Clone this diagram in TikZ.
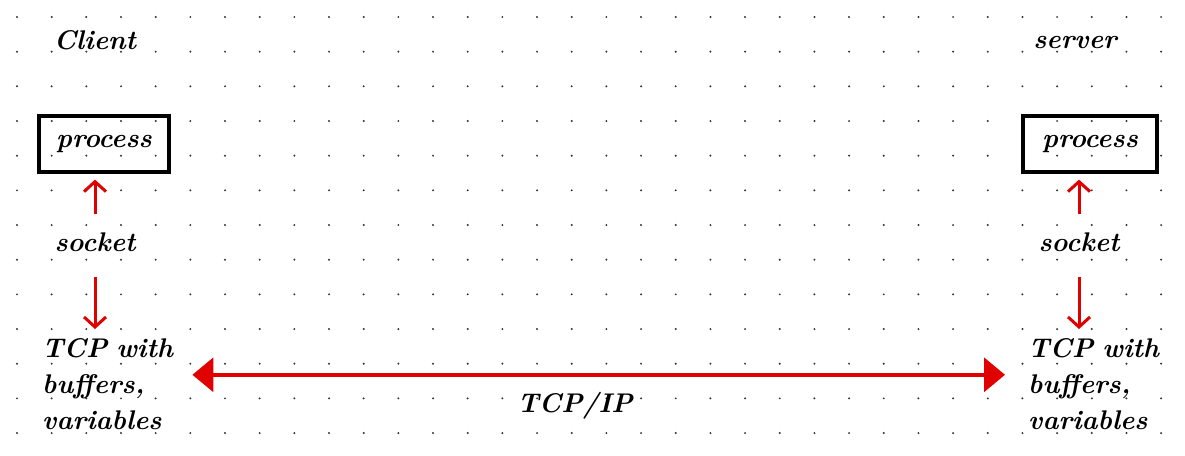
\documentclass[tikz,border=0pt]{standalone}
\usepackage{fontspec}
\setmainfont{Latin Modern Roman}
\usetikzlibrary{arrows.meta}
\definecolor{pen}{RGB}{225,0,0}
\begin{document}
\begin{tikzpicture}[x=1pt,y=-1pt,
  hand/.style={font=\fontsize{27}{36}\selectfont\bfseries\itshape, inner sep=0pt},
  procbox/.style={draw, line width=3.2pt, minimum height=56pt, inner sep=0pt,
    font=\fontsize{27}{36}\selectfont\bfseries\itshape},
  tcptext/.style={hand, align=left, text width=135pt, anchor=north west},
  redarrow/.style={draw=pen, line width=3pt, -{Straight Barb[length=10pt,width=22pt]}},
  bigarrow/.style={draw=pen, line width=3.5pt,
    {Triangle[length=21pt,width=34pt]}-{Triangle[length=21pt,width=34pt]}},
  griddot/.style={fill=black!80}]
\useasboundingbox (0,0) rectangle (1185,455);
\fill[white] (0,0) rectangle (1185,455);
\foreach \i in {0,...,33}
  \foreach \j in {0,...,12}
    \fill[griddot] (17+34.67*\i, 17+34.67*\j) circle (1.1pt);

% client
\node[hand] (cl) at (95,40) {Client};
\node[procbox, minimum width=130pt] (cp) at (104,144) {process};
\node[hand] (cs) at (95,242) {socket};
\node[tcptext] (ct) at (42,338) {TCP with\\buffers,\\variables};
\draw[redarrow, shorten <=18pt, shorten >=6pt] (cs.north) -- (cs.north |- cp.south);
\draw[redarrow, shorten <=25pt, shorten >=9pt] (cs.south) -- (cs.south |- ct.north);

% server
\node[hand] (sv) at (1075,42) {server};
\node[procbox, minimum width=134pt] (sp) at (1090,144) {process};
\node[hand] (ss) at (1079,242) {socket};
\node[tcptext] (st) at (1028,338) {TCP with\\buffers,\\variables};
\draw[redarrow, shorten <=18pt, shorten >=6pt] (ss.north) -- (ss.north |- sp.south);
\draw[redarrow, shorten <=25pt, shorten >=9pt] (ss.south) -- (ss.south |- st.north);

% connection
\draw[bigarrow, shorten <=15pt, shorten >=23pt] ([yshift=9pt]ct.east) -- ([yshift=9pt]ct.east -| st.west);
\node[hand] (ip) at (575,406) {TCP/IP};
\end{tikzpicture}
\end{document}
